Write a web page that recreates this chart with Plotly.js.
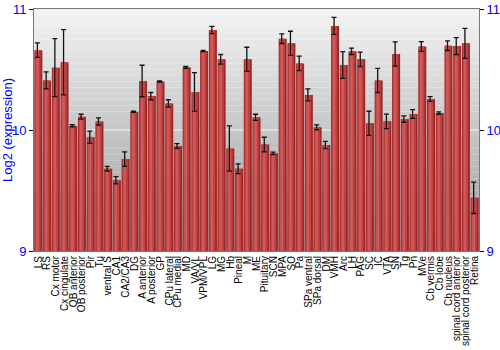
<!DOCTYPE html>
<html>
<head>
<meta charset="utf-8">
<script src="https://cdn.plot.ly/plotly-3.0.1.min.js"></script>
<style>html,body{margin:0;padding:0;background:#fff;}#chart{width:500px;height:350px;}</style>
</head>
<body>
<div id="chart"></div>
<script>
const categories = ["LS","RS","Cx motor","Cx cingulate","OB anterior","OB posterior","Pir","Tu","ventral S","CA1","CA2/CA3","DG","A anterior","A posterior","GP","CPu lateral","CPu medial","MD","VA/VL","VPM/VPL","LG","MG","Hb","Pineal","M","ME","Pituitary","SCN","MPA","SO","Pa","SPa ventral","SPa dorsal","DM","VMH","Arc","LH","PAG","SC","IC","VTA","SN","Tg","Pn","MVe","Cb vermis","Cb lobe","Cb nucleus","spinal cord anterior","spinal cord posterior","Retina"];
const values = [10.66,10.41,10.515,10.56,10.035,10.11,9.94,10.07,9.68,9.584,9.76,10.15,10.405,10.28,10.40,10.22,9.868,10.518,10.314,10.653,10.826,10.584,9.847,9.68,10.584,10.105,9.88,9.807,10.755,10.716,10.55,10.29,10.022,9.876,10.86,10.537,10.65,10.584,10.055,10.41,10.072,10.628,10.09,10.132,10.69,10.256,10.14,10.697,10.694,10.716,9.44];
const errors = [0.06,0.07,0.24,0.27,0.01,0.02,0.05,0.03,0.02,0.03,0.06,0.005,0.13,0.03,0.005,0.03,0.02,0.008,0.16,0.005,0.03,0.04,0.187,0.04,0.1,0.025,0.06,0.01,0.04,0.1,0.06,0.05,0.02,0.03,0.07,0.11,0.026,0.06,0.1,0.1,0.06,0.1,0.026,0.036,0.04,0.02,0.01,0.04,0.07,0.124,0.13];
const yTicks = [9,10,11];
const yRange = [9,11];
const yBase = 9;

const heights = values.map(v => v - yBase);
const traces = [
  {x: categories, y: heights, base: yBase, type: 'bar', width: 0.92,
   marker: {color: '#9a2828', line: {width: 0}}},
  {x: categories, y: heights, base: yBase, type: 'bar', width: 0.64, offset: -0.38,
   marker: {color: '#c04040', line: {width: 0}}},
  {x: categories, y: heights, base: yBase, type: 'bar', width: 0.3, offset: -0.26,
   marker: {color: '#d25858', line: {width: 0}},
   error_y: {type: 'data', array: errors, visible: true, color: '#111', thickness: 1.3, width: 2.5}},
  {x: categories, y: heights, base: yBase, type: 'bar', yaxis: 'y2', width: 0.01,
   marker: {color: 'rgba(0,0,0,0)'}, hoverinfo: 'skip', showlegend: false}
];

const shapes = [];
const n = 40;
for (let i = 0; i < n; i++) {
  const t = i / (n - 1);
  const c = Math.round(0xf2 + (0x9c - 0xf2) * t);
  shapes.push({type: 'rect', xref: 'paper', yref: 'y', layer: 'below',
    x0: 0, x1: 1, y0: 11 - 2 * i / n, y1: 11 - 2 * (i + 1) / n,
    fillcolor: `rgb(${c},${c},${c})`, line: {width: 0}});
}
shapes.push({type: 'line', xref: 'paper', yref: 'y', layer: 'below', x0: 0, x1: 1, y0: 10, y1: 10,
  line: {color: '#f4f4f4', width: 1.2}});

const layout = {
  width: 500, height: 350,
  margin: {l: 34, r: 21, t: 9, b: 99},
  paper_bgcolor: '#ffffff', plot_bgcolor: 'rgba(0,0,0,0)',
  barmode: 'overlay', bargap: 0.08, showlegend: false,
  font: {family: 'Liberation Sans, Arial, sans-serif'},
  xaxis: {type: 'category', tickmode: 'linear', tick0: 0, dtick: 1, tickangle: -90,
    tickfont: {size: 10, color: '#000', family: 'Liberation Sans, Arial, sans-serif'},
    showline: true, linecolor: '#777', mirror: true, ticks: '', ticklabelstandoff: 0, showgrid: false,
    automargin: false, range: [-0.5, categories.length - 0.5]},
  yaxis: {range: yRange, tickvals: yTicks, ticks: 'outside', ticklen: 4, tickcolor: '#000',
    tickfont: {size: 13, color: '#0000ff'}, showgrid: false, zeroline: false,
    showline: true, linecolor: '#777',
    title: {text: 'Log2 (expression)', font: {size: 13, color: '#0000ff'}, standoff: 4}},
  yaxis2: {range: yRange, tickvals: yTicks, overlaying: 'y', side: 'right', ticks: 'outside',
    ticklen: 4, tickcolor: '#000', tickfont: {size: 13, color: '#0000ff'}, showgrid: false,
    zeroline: false, showline: true, linecolor: '#777'},
  shapes: shapes
};

Plotly.newPlot('chart', traces, layout, {displayModeBar: false, staticPlot: true});
</script>
</body>
</html>
